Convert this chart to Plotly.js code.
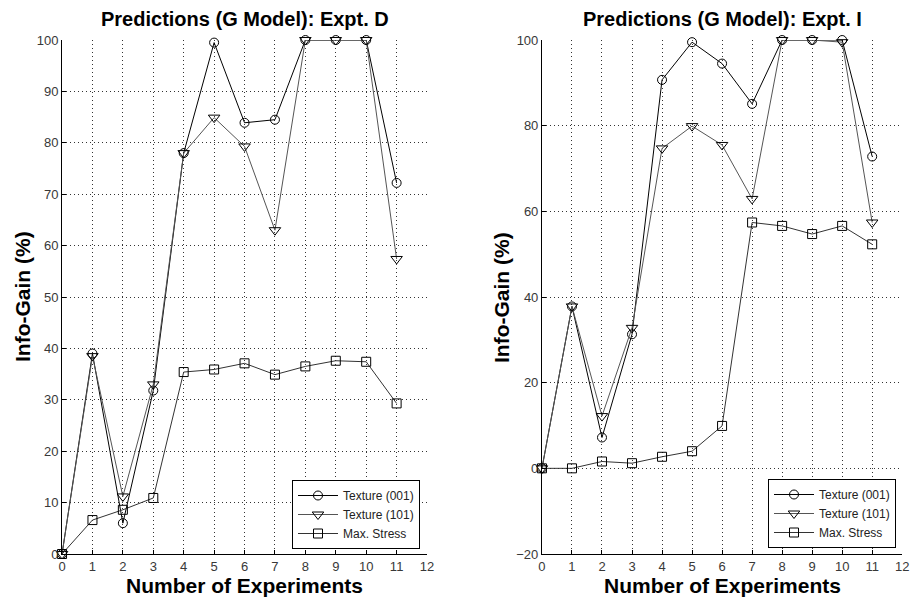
<!DOCTYPE html>
<html>
<head>
<meta charset="utf-8">
<script src="https://cdn.plot.ly/plotly-3.0.1.min.js"></script>
<style>
  html, body { margin: 0; padding: 0; background: #fff; }
  #chart { width: 915px; height: 601px; }
</style>
</head>
<body>
<div id="chart"></div>
<script>
// Number of experiments (x axis of both panels)
const experiments = [0, 1, 2, 3, 4, 5, 6, 7, 8, 9, 10, 11];

// Expt. D predictions (info-gain, %)
const exptD_texture001 = [0, 39, 6, 31.8, 78, 99.5, 83.9, 84.5, 100, 100, 100, 72.2];
const exptD_texture101 = [0, 38.5, 11.2, 33, 78, 84.9, 79.3, 63, 100, 100, 100, 57.4];
const exptD_maxStress  = [0, 6.6, 8.6, 10.9, 35.4, 35.9, 37.1, 34.9, 36.5, 37.6, 37.4, 29.3];

// Expt. I predictions (info-gain, %)
const exptI_texture001 = [0, 37.8, 7.2, 31.3, 90.7, 99.5, 94.5, 85.1, 100, 100, 100, 72.8];
const exptI_texture101 = [0, 37.8, 12.2, 32.8, 74.7, 79.9, 75.5, 62.9, 100, 100, 99.5, 57.4];
const exptI_maxStress  = [0, 0, 1.6, 1.2, 2.7, 4.0, 9.9, 57.4, 56.6, 54.7, 56.6, 52.3];

const seriesNames = ['Texture (001)', 'Texture (101)', 'Max. Stress'];
const panelTitles = ['Predictions (G Model): Expt. D', 'Predictions (G Model): Expt. I'];
const xTitle = 'Number of Experiments';
const yTitle = 'Info-Gain (%)';

const FONT = '"Liberation Sans", Arial, Helvetica, sans-serif';
const styles = [
  { color: '#000000', symbol: 'circle-open', size: 9 },
  { color: '#555555', symbol: 'triangle-down-open', size: 10 },
  { color: '#333333', symbol: 'square-open', size: 9 }
];

function makeTraces(values, xa, ya, legendId) {
  return values.map((v, i) => ({
    type: 'scatter',
    mode: 'lines+markers',
    x: experiments,
    y: v,
    name: seriesNames[i],
    xaxis: xa,
    yaxis: ya,
    legend: legendId,
    cliponaxis: false,
    line: { color: styles[i].color, width: 1 },
    marker: {
      symbol: styles[i].symbol,
      size: styles[i].size,
      color: '#000',
      line: { color: '#000', width: 1 }
    }
  }));
}

const data = [
  ...makeTraces([exptD_texture001, exptD_texture101, exptD_maxStress], 'x', 'y', 'legend'),
  ...makeTraces([exptI_texture001, exptI_texture101, exptI_maxStress], 'x2', 'y2', 'legend2')
];

const yDomain = [0.0782, 0.9334];
const tickFont = { family: FONT, size: 13, color: '#383838' };

function xAxis(domain, anchor) {
  return {
    domain: domain, anchor: anchor,
    range: [0, 12], tickmode: 'linear', tick0: 0, dtick: 1,
    showline: true, linecolor: '#000', linewidth: 1,
    ticks: 'inside', ticklen: 4, tickcolor: '#000',
    showgrid: true, gridcolor: '#333', gridwidth: 1, griddash: '1px,3px',
    zeroline: false, tickfont: tickFont, fixedrange: true,
    ticklabeloverflow: 'allow'
  };
}
function yAxis(range, dtick, anchor) {
  return {
    domain: yDomain, anchor: anchor,
    range: range, tickmode: 'linear', tick0: range[0], dtick: dtick,
    showline: true, linecolor: '#000', linewidth: 1,
    ticks: 'inside', ticklen: 4, tickcolor: '#000',
    showgrid: true, gridcolor: '#333', gridwidth: 1, griddash: '1px,3px',
    zeroline: false, tickfont: tickFont, fixedrange: true,
    ticklabeloverflow: 'allow'
  };
}

const legendStyle = {
  bgcolor: '#fff', bordercolor: '#000', borderwidth: 1,
  font: { family: FONT, size: 12, color: '#222' },
  xanchor: 'right', yanchor: 'bottom', itemwidth: 40,
  tracegroupgap: 0
};

const titleFont = { family: FONT, size: 20, color: '#000', weight: 'bold' };
const axisTitleFont = { family: FONT, size: 21, color: '#000', weight: 'bold' };

const annotations = [
  { text: panelTitles[0], x: 244.5 / 915, y: 1 - 19.5 / 601 },
  { text: panelTitles[1], x: 722 / 915, y: 1 - 19.5 / 601 },
  { text: xTitle, x: 244.5 / 915, y: 1 - 585 / 601 },
  { text: xTitle, x: 722 / 915, y: 1 - 585 / 601 },
  { text: yTitle, x: 22 / 915, y: 1 - 297 / 601, rot: true },
  { text: yTitle, x: 501 / 915, y: 1 - 297 / 601, rot: true }
].map((a, i) => ({
  text: a.text, xref: 'paper', yref: 'paper', x: a.x, y: a.y,
  xanchor: 'center', yanchor: 'middle', showarrow: false,
  textangle: a.rot ? -90 : 0,
  font: i < 2 ? titleFont : axisTitleFont
}));

const layout = {
  width: 915, height: 601,
  margin: { l: 0, r: 0, t: 0, b: 0 },
  paper_bgcolor: '#fff', plot_bgcolor: '#fff',
  showlegend: true,
  xaxis: xAxis([0.0678, 0.4667], 'y'),
  yaxis: yAxis([0, 100], 10, 'x'),
  xaxis2: xAxis([0.5923, 0.986], 'y2'),
  yaxis2: yAxis([-20, 100], 20, 'x2'),
  legend: Object.assign({ x: 420 / 915, y: 1 - 549 / 601 }, legendStyle),
  legend2: Object.assign({ x: 896 / 915, y: 1 - 548 / 601 }, legendStyle),
  annotations: annotations
};

Plotly.newPlot('chart', data, layout, { displayModeBar: false, staticPlot: true });
</script>
</body>
</html>
